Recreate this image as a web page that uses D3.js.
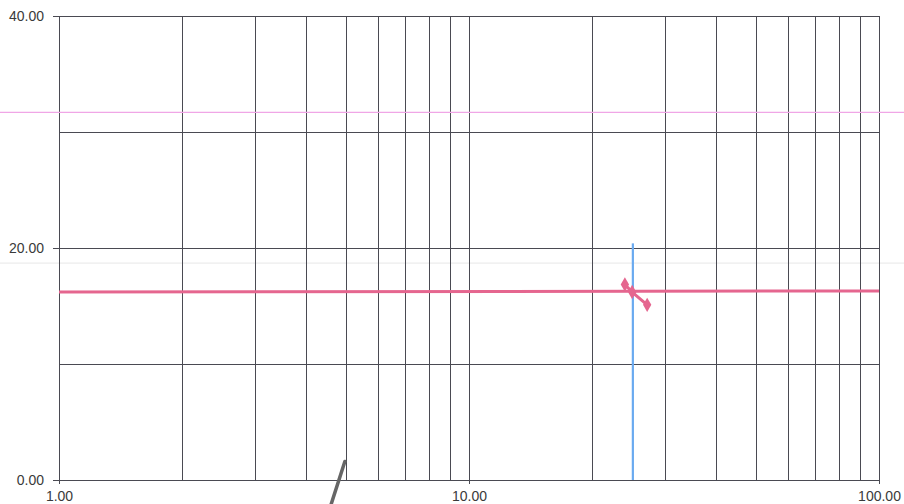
<!DOCTYPE html>
<html>
<head>
<meta charset="utf-8">
<script src="https://cdn.jsdelivr.net/npm/d3@7"></script>
<style>
  html, body { margin: 0; padding: 0; background: #fff; }
  svg { display: block; }
  text { font-family: "Liberation Sans", Arial, sans-serif; font-size: 14px; fill: #3a3a3a; }
</style>
</head>
<body>
<svg id="chart" width="904" height="504"></svg>
<script>
// Axis setup
const xDomain = [1, 100];
const yDomain = [0, 40];
const xGridValues = [1, 2, 3, 4, 5, 6, 7, 8, 9, 10, 20, 30, 40, 50, 60, 70, 80, 90, 100];
const yGridValues = [0, 10, 20, 30, 40];
const xTickLabels = [1, 10, 100];
const yTickLabels = [0, 20, 40];

// Series
const levelX = [1, 100];
const levelY = [16.2, 16.3];
const markerX = [24.0, 25.0, 27.2];
const markerY = [16.85, 16.2, 15.1];
const verticalX = [25.1, 25.1];
const verticalY = [0, 20.4];
const referenceY = [31.7];
const faintY = [18.7];
const penX = [4.98, 4.61];
const penY = [1.6, -2.1];

const svg = d3.select("#chart");
const margin = { left: 59, right: 25, top: 16, bottom: 24 };
const W = 904, H = 504;

const x = d3.scaleLog().domain(xDomain).range([margin.left, W - margin.right]);
const y = d3.scaleLinear().domain(yDomain).range([H - margin.bottom, margin.top]);

// light horizontal rules spanning the whole sheet
svg.append("g").selectAll("line").data(faintY).join("line")
  .attr("x1", 0).attr("x2", W)
  .attr("y1", d => y(d)).attr("y2", d => y(d))
  .attr("stroke", "#ececec").attr("stroke-width", 1.2);

// grid
const grid = svg.append("g").attr("stroke", "#4a4a52").attr("stroke-width", 1);
grid.selectAll("line.v").data(xGridValues).join("line")
  .attr("class", "v")
  .attr("x1", d => Math.round(x(d)) + 0.5).attr("x2", d => Math.round(x(d)) + 0.5)
  .attr("y1", y(yDomain[1])).attr("y2", y(yDomain[0]));
grid.selectAll("line.h").data(yGridValues).join("line")
  .attr("class", "h")
  .attr("x1", x(xDomain[0])).attr("x2", x(xDomain[1]))
  .attr("y1", d => Math.round(y(d)) + 0.5).attr("y2", d => Math.round(y(d)) + 0.5);

// y axis ticks and labels
const yAxis = d3.axisLeft(y).tickValues(yTickLabels).tickSize(6).tickPadding(9)
  .tickFormat(d3.format(".2f"));
const gy = svg.append("g").attr("transform", `translate(${x(xDomain[0])},0)`).call(yAxis);
gy.select(".domain").remove();
gy.selectAll("line").attr("stroke", "#4a4a52");
gy.selectAll("text").attr("dy", "0.32em").style("font-size", "14px").attr("fill", "#3a3a3a");

// x axis ticks and labels
const xAxis = d3.axisBottom(x).tickValues(xTickLabels).tickSize(4).tickPadding(7)
  .tickFormat(d3.format(".2f"));
const gx = svg.append("g").attr("transform", `translate(0,${y(yDomain[0])})`).call(xAxis);
gx.select(".domain").remove();
gx.selectAll("line").attr("stroke", "#4a4a52");
gx.selectAll("text").style("font-size", "14px").attr("fill", "#3a3a3a");

// reference rule across the sheet
svg.append("g").selectAll("line").data(referenceY).join("line")
  .attr("x1", 0).attr("x2", W)
  .attr("y1", d => y(d)).attr("y2", d => y(d))
  .attr("stroke", "#f0a6e6").attr("stroke-width", 1.3);

const line = d3.line().x(d => x(d[0])).y(d => y(d[1]));

// level line
svg.append("path")
  .datum(d3.zip(levelX, levelY))
  .attr("d", line)
  .attr("fill", "none").attr("stroke", "#e5668f").attr("stroke-width", 3);

// vertical marker
svg.append("path")
  .datum(d3.zip(verticalX, verticalY))
  .attr("d", line)
  .attr("fill", "none").attr("stroke", "#6aaaf0").attr("stroke-width", 2.2);

// short descending series with diamond markers
const pts = d3.zip(markerX, markerY);
svg.append("path")
  .datum(pts)
  .attr("d", line)
  .attr("fill", "none").attr("stroke", "#e5668f").attr("stroke-width", 3);
svg.append("g").selectAll("path").data(pts).join("path")
  .attr("d", d3.symbol(d3.symbolDiamond, 60))
  .attr("transform", d => `translate(${x(d[0])},${y(d[1])})`)
  .attr("fill", "#e5668f");

// pen stroke below the axis
svg.append("path")
  .datum(d3.zip(penX, penY))
  .attr("d", line)
  .attr("fill", "none").attr("stroke", "#666").attr("stroke-width", 3.5)
  .attr("stroke-linecap", "round");
</script>
</body>
</html>
